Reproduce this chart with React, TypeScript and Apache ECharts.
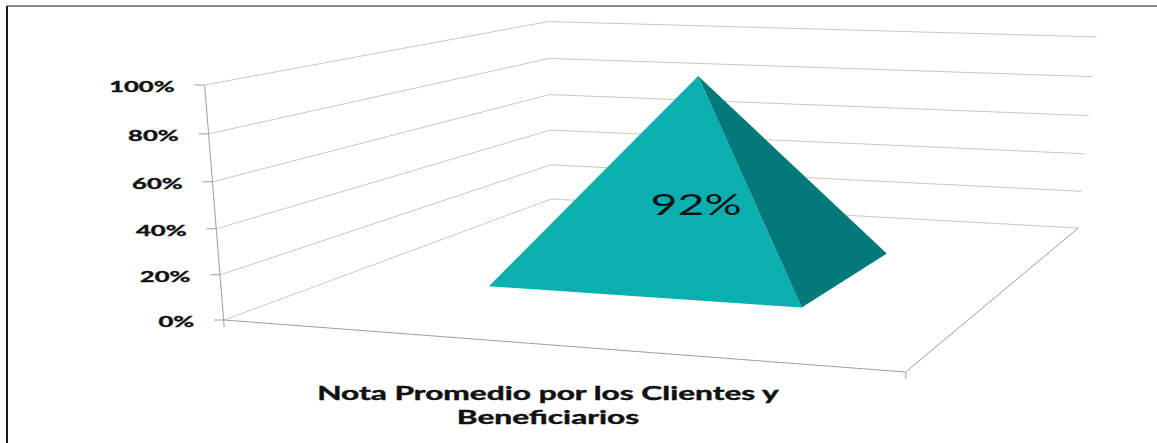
import React, { useEffect, useRef } from "react";
import * as echarts from "echarts";

// Data
const categories = ["Nota Promedio por los Clientes y\nBeneficiarios"];
const seriesValues = [92];
const tickValues = [0, 20, 40, 60, 80, 100];
const tickLabels = ["0%", "20%", "40%", "60%", "80%", "100%"];

// Pseudo-3D projection of the Excel-like box (style/layout only)
const G = -0.09445, H = 0.3241;
const floorX = (u: number, v: number) => (596 * u + 505.6 * v + 224.2);
const floorY = (u: number, v: number) => (16.9 * u - 56.5 * v + 320);
const BAR_U: [number, number] = [0.25, 0.75];
const BAR_V: [number, number] = [0.3, 0.7];

// api.coord supplies the axis scale; perspective adjusts it by depth
function project(api: any, u: number, v: number, pct: number): [number, number] {
  const den = 1 + G * u + H * v;
  const fx = floorX(u, v) / den;
  const fy = floorY(u, v) / den;
  const zero = api.coord([0, 0])[1];
  const raw = (zero - api.coord([0, pct])[1]);
  const total = zero - api.coord([0, 100])[1];
  const p = raw / total;
  const h = (total * (p / (1 + 0.05 * (1 - p)))) / den;
  return [fx + (fx - 621) * 0.00021 * h, fy - h];
}

const LINE = "#c8c8c8";
const AXIS = "#9e9e9e";

function renderWall(_: any, api: any) {
  const pct = api.value(1);
  const a = project(api, 0, 0, pct);
  const c = project(api, 0, 1, pct);
  const d = project(api, 1, 1, pct);
  const children: any[] = [
    { type: "polyline", shape: { points: [a, c, d] }, style: { stroke: LINE, fill: null, lineWidth: 1 } },
    { type: "line", shape: { x1: a[0] - 10, y1: a[1], x2: a[0], y2: a[1] }, style: { stroke: AXIS, lineWidth: 1 } },
    {
      type: "text",
      x: a[0] - 30,
      y: a[1] + 1,
      scaleX: 1.65,
      style: {
        text: tickLabels[tickValues.indexOf(pct)],
        font: "bold 15.5px Lato",
        fill: "#111111",
        stroke: "#111111",
        lineWidth: 0.4,
        textAlign: "right",
        textVerticalAlign: "middle",
      },
    },
  ];
  if (pct === 0) {
    const b = project(api, 1, 0, 0);
    const top = project(api, 0, 0, 100);
    children.push(
      { type: "line", shape: { x1: a[0], y1: a[1], x2: b[0], y2: b[1] }, style: { stroke: AXIS, lineWidth: 1 } },
      { type: "line", shape: { x1: b[0], y1: b[1], x2: d[0], y2: d[1] }, style: { stroke: AXIS, lineWidth: 1 } },
      { type: "line", shape: { x1: b[0], y1: b[1], x2: b[0], y2: b[1] + 7 }, style: { stroke: AXIS, lineWidth: 1 } },
      { type: "line", shape: { x1: top[0], y1: top[1], x2: a[0], y2: a[1] + 7 }, style: { stroke: AXIS, lineWidth: 1 } }
    );
  }
  return { type: "group", children };
}

function renderPyramid(_: any, api: any) {
  const value = api.value(1);
  const uc = (BAR_U[0] + BAR_U[1]) / 2;
  const vc = (BAR_V[0] + BAR_V[1]) / 2;
  const left = project(api, BAR_U[0], BAR_V[0], 0);
  const front = project(api, BAR_U[1], BAR_V[0], 0);
  const right = project(api, BAR_U[1], BAR_V[1], 0);
  const apex = project(api, uc, vc, value);
  const labelAt = project(api, uc, vc, value * 0.35);
  return {
    type: "group",
    children: [
      { type: "polygon", shape: { points: [left, front, apex] }, style: { fill: "#0bafaf" } },
      { type: "polygon", shape: { points: [front, right, apex] }, style: { fill: "#03797a" } },
      {
        type: "text",
        x: labelAt[0],
        y: labelAt[1],
        scaleX: 1.66,
        style: {
          text: `${value}%`,
          font: "28px Lato",
          fill: "#0a1414",
          textAlign: "center",
          textVerticalAlign: "middle",
        },
      },
    ],
  };
}

function renderCategory(_: any, api: any) {
  const lines = categories[api.value(0)].split("\n");
  const a = project(api, 0, 0, 0);
  const b = project(api, 1, 0, 0);
  const cx = (a[0] + b[0]) / 2 - 17;
  return {
    type: "group",
    children: lines.map((t: string, i: number) => ({
      type: "text",
      x: cx,
      y: 393 + i * 24,
      scaleX: 1.76,
      style: {
        text: t,
        font: "bold 18px Lato",
        fill: "#111111",
        stroke: "#111111",
        lineWidth: 0.4,
        textAlign: "center",
        textVerticalAlign: "middle",
      },
    })),
  };
}

export default function App() {
  const ref = useRef<HTMLDivElement>(null);
  useEffect(() => {
    document.body.style.margin = "0";
    const chart = echarts.init(ref.current!, undefined, { renderer: "svg" });
    chart.setOption({
      animation: false,
      backgroundColor: "#ffffff",
      grid: { left: 224, top: 85, width: 680, height: 235 },
      xAxis: { type: "category", data: categories, show: false },
      yAxis: { type: "value", min: 0, max: 100, interval: 20, show: false },
      graphic: [
        { type: "rect", shape: { x: 7, y: 5, width: 1150, height: 2 }, style: { fill: "#8a8a8a" } },
        { type: "rect", shape: { x: 6, y: 6, width: 2, height: 437 }, style: { fill: "#1c1c1c" } },
      ],
      series: [
        { type: "custom", renderItem: renderWall, data: tickValues.map((t) => [0, t]), silent: true, clip: false, z: 1 },
        { type: "custom", renderItem: renderPyramid, data: seriesValues.map((v) => [0, v]), silent: true, clip: false, z: 2 },
        { type: "custom", renderItem: renderCategory, data: [[0, 0]], silent: true, clip: false, z: 3 },
      ],
    });
    return () => chart.dispose();
  }, []);
  return <div ref={ref} style={{ width: 1157, height: 443 }} />;
}
